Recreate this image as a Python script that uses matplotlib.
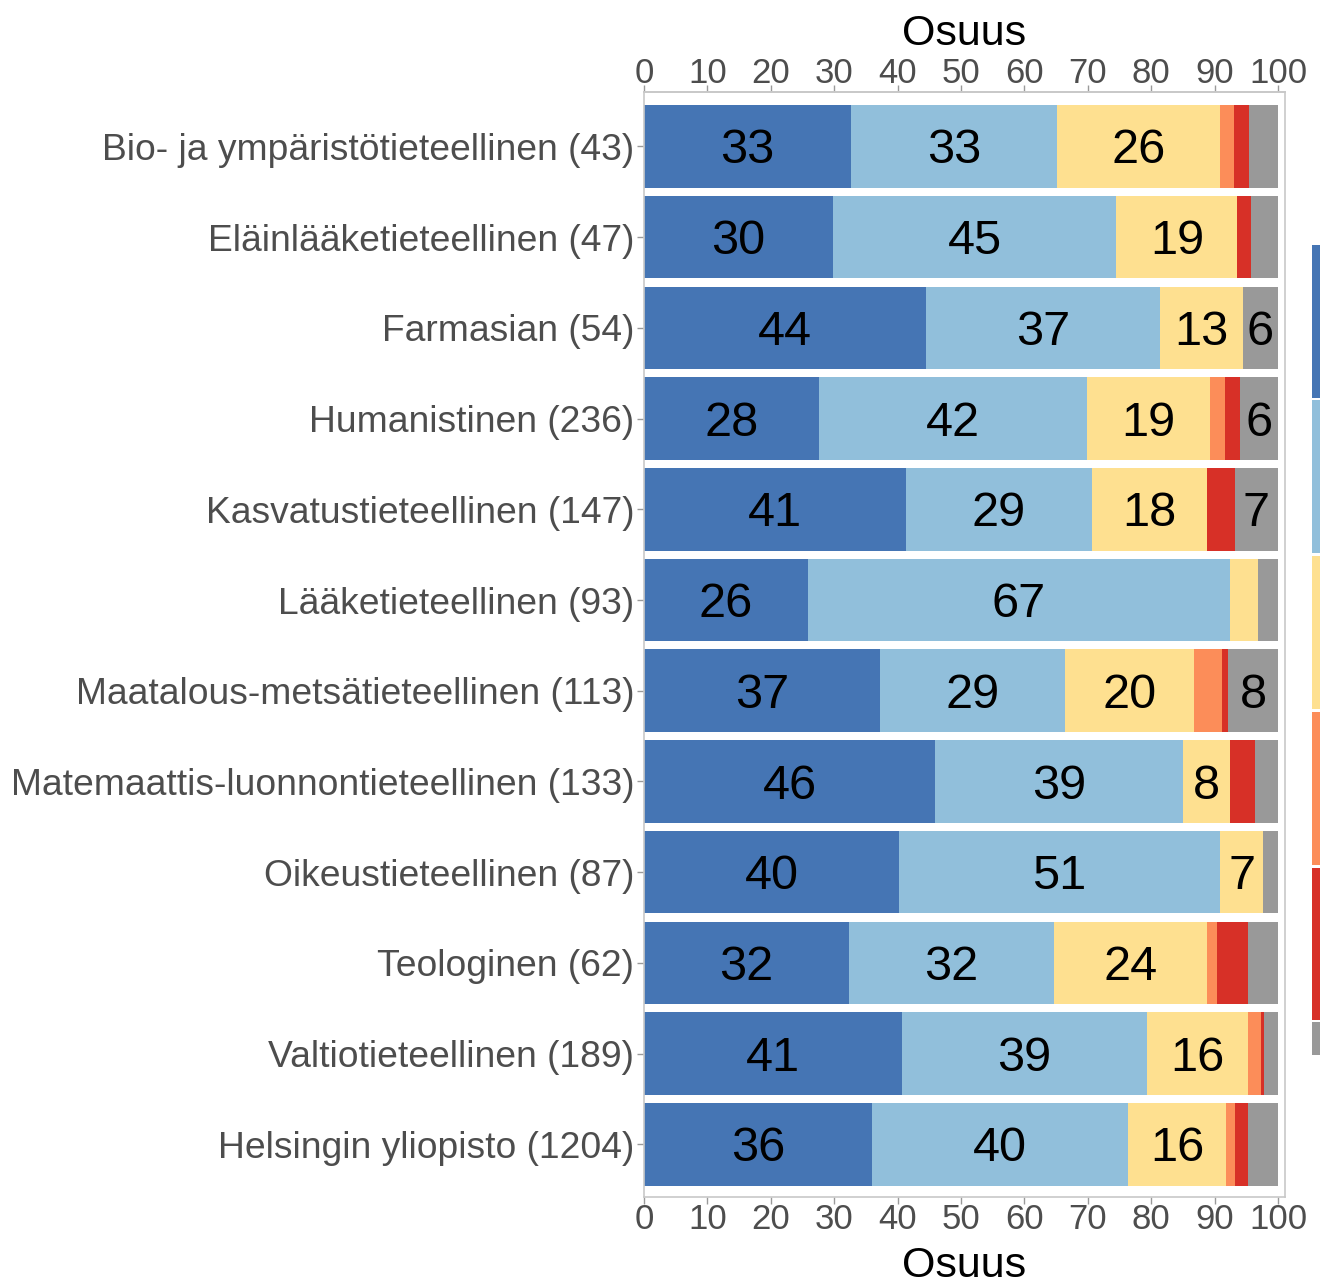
import matplotlib
matplotlib.use("Agg")
import matplotlib.pyplot as plt
from matplotlib.patches import Rectangle
import numpy as np

plt.rcParams['font.family'] = ['Liberation Sans', 'DejaVu Sans']

# categories, top to bottom
categories = [
    'Bio- ja ympäristötieteellinen (43)',
    'Eläinlääketieteellinen (47)',
    'Farmasian (54)',
    'Humanistinen (236)',
    'Kasvatustieteellinen (147)',
    'Lääketieteellinen (93)',
    'Maatalous-metsätieteellinen (113)',
    'Matemaattis-luonnontieteellinen (133)',
    'Oikeustieteellinen (87)',
    'Teologinen (62)',
    'Valtiotieteellinen (189)',
    'Helsingin yliopisto (1204)',
]

# shares (%) per response class
dark_blue = [32.6, 29.8, 44.4, 27.6, 41.4, 25.8, 37.2, 45.9, 40.2, 32.3, 40.7, 36.0]
light_blue = [32.6, 44.7, 37.0, 42.2, 29.2, 66.7, 29.2, 39.1, 50.6, 32.3, 38.6, 40.3]
yellow = [25.6, 19.1, 13.0, 19.4, 18.2, 4.3, 20.4, 7.5, 6.9, 24.2, 15.9, 15.5]
orange = [2.3, 0.0, 0.0, 2.4, 0.0, 0.0, 4.4, 0.0, 0.0, 1.6, 2.1, 1.4]
red = [2.3, 2.1, 0.0, 2.4, 4.4, 0.0, 0.9, 3.8, 0.0, 4.8, 0.5, 2.1]
grey = [4.6, 4.3, 5.6, 6.0, 6.8, 3.2, 7.9, 3.7, 2.3, 4.8, 2.2, 4.7]

series = [dark_blue, light_blue, yellow, orange, red, grey]
colors = ['#4575b4', '#91bfdb', '#fee090', '#fc8d59', '#d73027', '#999999']
xticks = np.arange(0, 101, 10)

W, H = 1320, 1283
fig = plt.figure(figsize=(W / 100, H / 100), dpi=100)
fig.patch.set_facecolor('white')

# panel from x=644 to 1285 px, y=92 to 1197 px
ax = fig.add_axes([644 / W, (H - 1197) / H, 641 / W, 1105 / H])

y = np.arange(len(categories))
left = np.zeros(len(categories))
for vals, col in zip(series, colors):
    vals = np.array(vals)
    ax.barh(y, vals, left=left, height=0.91, color=col, edgecolor='none')
    for yi, l, v in zip(y, left, vals):
        if v >= 5:
            ax.text(l + v / 2, yi + 0.05, f'{v:.0f}', ha='center', va='center',
                    fontsize=35, color='black')
    left = left + vals

ax.set_xlim(0, 101.1)
ax.set_ylim(11.58, -0.6)
ax.set_yticks(y)
ax.set_yticklabels(categories, fontsize=26.8, color='#4d4d4d')
ax.set_xticks(xticks)
ax.tick_params(axis='x', labelsize=25, labelcolor='#4d4d4d', colors='#9a9a9a',
               length=5, width=1, pad=-0.5)
ax.tick_params(axis='x', labelcolor='#4d4d4d')
ax.tick_params(axis='y', length=5, width=1, colors='#9a9a9a', pad=2)
ax.tick_params(axis='y', labelcolor='#4d4d4d')

# duplicated axis on top
top = ax.secondary_xaxis('top')
top.set_xticks(xticks)
top.tick_params(axis='x', labelsize=25, colors='#9a9a9a', length=5, width=1,
                pad=-3.5)
top.tick_params(axis='x', labelcolor='#4d4d4d')
top.spines['top'].set_color('#c8c8c8')
top.spines['top'].set_linewidth(1.2)

ax.text(0.5, 1.0425, 'Osuus', transform=ax.transAxes, ha='center',
        va='baseline', fontsize=31)
ax.text(0.5, -0.072, 'Osuus', transform=ax.transAxes, ha='center',
        va='baseline', fontsize=31)
for s in ax.spines.values():
    s.set_color('#c8c8c8')
    s.set_linewidth(1.2)

# legend keys (mostly cut off at the right edge)
key_tops = [245, 400, 556, 712, 868, 1022]
key_h = [153, 153, 153, 153, 152, 33]
for col, t, h in zip(colors, key_tops, key_h):
    fig.add_artist(Rectangle((1312 / W, 1 - (t + h) / H), 20 / W, h / H,
                             transform=fig.transFigure, facecolor=col,
                             edgecolor='none'))

fig.savefig('out.png', dpi=100, facecolor='white')
